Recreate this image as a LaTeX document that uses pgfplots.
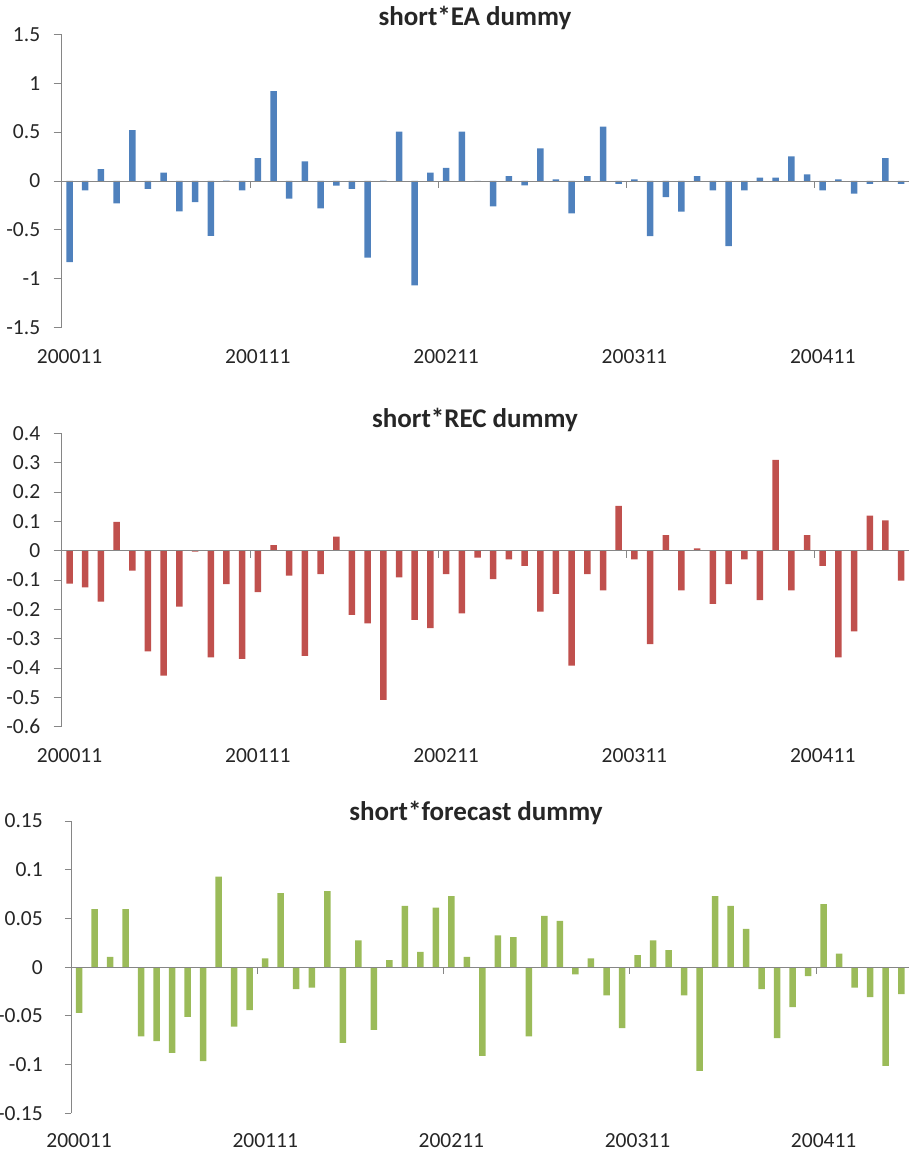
\documentclass[border=0pt]{standalone}
\usepackage{fontspec}
\setmainfont{Carlito}
\usepackage{pgfplots}
\pgfplotsset{compat=1.18}

\definecolor{exblue}{HTML}{4F81BD}
\definecolor{exred}{HTML}{C0504D}
\definecolor{exgreen}{HTML}{9BBB59}
\definecolor{axgray}{HTML}{868686}
\definecolor{txt}{HTML}{262626}

\newcommand{\ticksize}{\fontsize{21.5}{21.5}\selectfont}
\newcommand{\titlesize}{\fontsize{27}{27}\selectfont\bfseries}

\pgfplotsset{
  panel/.style={
    scale only axis, anchor=south west,
    xmin=-0.5, xmax=53.5,
    axis y line*=left, axis x line*=bottom,
    x axis line style={draw=none},
    y axis line style={draw=axgray, line width=0.8pt},
    ytick style={draw=axgray, line width=0.8pt},
    xtick style={draw=none},
    tick align=outside, major tick length=8pt,
    xtick={0,12,24,36,48},
    xticklabels={200011,200111,200211,200311,200411},
    scaled y ticks=false,
    tick label style={font=\ticksize, text=txt},
    /pgf/number format/assume math mode=true,
    yticklabel style={/pgf/number format/fixed, /pgf/number format/precision=2, xshift=-10pt},
    xticklabel style={anchor=base, yshift=-28pt},
    clip=false,
  },
  bars/.style={ybar, bar width=6.5pt, draw=none, fill=#1},
}

\begin{document}
\begin{tikzpicture}
\useasboundingbox (0,0) rectangle (909pt,1155pt);

%% panel 1: EA dummy
\begin{axis}[panel, at={(61.7pt,827.3pt)}, width=847.3pt, height=293.4pt,
  ymin=-1.5, ymax=1.5, ytick={-1.5,-1,-0.5,0,0.5,1,1.5}]
\addplot[bars=exblue] coordinates {
 (0,-0.83) (1,-0.095) (2,0.12) (3,-0.23) (4,0.52) (5,-0.08) (6,0.085) (7,-0.31)
 (8,-0.215) (9,-0.56) (10,0.004) (11,-0.095) (12,0.235) (13,0.92) (14,-0.18) (15,0.20)
 (16,-0.28) (17,-0.048) (18,-0.08) (19,-0.784) (20,0.004) (21,0.505) (22,-1.067) (23,0.085)
 (24,0.133) (25,0.505) (26,-0.005) (27,-0.26) (28,0.05) (29,-0.045) (30,0.334) (31,0.017)
 (32,-0.33) (33,0.05) (34,0.556) (35,-0.03) (36,0.017) (37,-0.563) (38,-0.164) (39,-0.314)
 (40,0.05) (41,-0.095) (42,-0.665) (43,-0.095) (44,0.034) (45,0.034) (46,0.252) (47,0.068)
 (48,-0.095) (49,0.017) (50,-0.13) (51,-0.03) (52,0.235) (53,-0.03)
};
\draw[axgray, line width=0.8pt] (axis cs:-0.5,0) -- (axis cs:53.5,0);
\draw[axgray, line width=0.8pt] (axis cs:-0.5,0) -- ([yshift=-7pt]axis cs:-0.5,0);
\draw[axgray, line width=0.8pt] (axis cs:11.5,0) -- ([yshift=-7pt]axis cs:11.5,0);
\draw[axgray, line width=0.8pt] (axis cs:23.5,0) -- ([yshift=-7pt]axis cs:23.5,0);
\draw[axgray, line width=0.8pt] (axis cs:35.5,0) -- ([yshift=-7pt]axis cs:35.5,0);
\draw[axgray, line width=0.8pt] (axis cs:47.5,0) -- ([yshift=-7pt]axis cs:47.5,0);
\end{axis}

%% panel 2: REC dummy
\begin{axis}[panel, at={(61.7pt,428.3pt)}, width=847.3pt, height=293.4pt,
  ymin=-0.6, ymax=0.4, ytick={-0.6,-0.5,-0.4,-0.3,-0.2,-0.1,0,0.1,0.2,0.3,0.4}]
\addplot[bars=exred] coordinates {
 (0,-0.112) (1,-0.125) (2,-0.174) (3,0.098) (4,-0.068) (5,-0.343) (6,-0.426) (7,-0.191)
 (8,-0.003) (9,-0.364) (10,-0.114) (11,-0.369) (12,-0.141) (13,0.019) (14,-0.085) (15,-0.359)
 (16,-0.080) (17,0.048) (18,-0.219) (19,-0.248) (20,-0.509) (21,-0.091) (22,-0.236) (23,-0.264)
 (24,-0.080) (25,-0.214) (26,-0.024) (27,-0.097) (28,-0.030) (29,-0.052) (30,-0.208) (31,-0.147)
 (32,-0.392) (33,-0.080) (34,-0.135) (35,0.153) (36,-0.030) (37,-0.319) (38,0.053) (39,-0.135)
 (40,0.008) (41,-0.181) (42,-0.114) (43,-0.030) (44,-0.169) (45,0.309) (46,-0.135) (47,0.053)
 (48,-0.052) (49,-0.364) (50,-0.275) (51,0.119) (52,0.103) (53,-0.102)
};
\draw[axgray, line width=0.8pt] (axis cs:-0.5,0) -- (axis cs:53.5,0);
\draw[axgray, line width=0.8pt] (axis cs:-0.5,0) -- ([yshift=-7pt]axis cs:-0.5,0);
\draw[axgray, line width=0.8pt] (axis cs:11.5,0) -- ([yshift=-7pt]axis cs:11.5,0);
\draw[axgray, line width=0.8pt] (axis cs:23.5,0) -- ([yshift=-7pt]axis cs:23.5,0);
\draw[axgray, line width=0.8pt] (axis cs:35.5,0) -- ([yshift=-7pt]axis cs:35.5,0);
\draw[axgray, line width=0.8pt] (axis cs:47.5,0) -- ([yshift=-7pt]axis cs:47.5,0);
\end{axis}

%% panel 3: forecast dummy
\begin{axis}[panel, at={(71.3pt,41.7pt)}, width=837.7pt, height=292.3pt,
  major tick length=6.5pt, yticklabel style={xshift=-8.5pt},
  ymin=-0.15, ymax=0.15, ytick={-0.15,-0.1,-0.05,0,0.05,0.1,0.15}]
\addplot[bars=exgreen] coordinates {
 (0,-0.047) (1,0.0595) (2,0.0106) (3,0.0595) (4,-0.071) (5,-0.076) (6,-0.088) (7,-0.051)
 (8,-0.0964) (9,0.093) (10,-0.061) (11,-0.044) (12,0.0089) (13,0.076) (14,-0.0226) (15,-0.0209)
 (16,0.078) (17,-0.0776) (18,0.0274) (19,-0.0643) (20,0.0072) (21,0.063) (22,0.0157) (23,0.0612)
 (24,0.0728) (25,0.0106) (26,-0.091) (27,0.0325) (28,0.0308) (29,-0.071) (30,0.0527) (31,0.0475)
 (32,-0.0075) (33,0.0089) (34,-0.029) (35,-0.0626) (36,0.0123) (37,0.0274) (38,0.0174) (39,-0.029)
 (40,-0.1064) (41,0.0728) (42,0.063) (43,0.0393) (44,-0.0226) (45,-0.0728) (46,-0.041) (47,-0.0092)
 (48,0.0646) (49,0.014) (50,-0.0209) (51,-0.0308) (52,-0.1012) (53,-0.0277)
};
\draw[axgray, line width=0.8pt] (axis cs:-0.5,0) -- (axis cs:53.5,0);
\draw[axgray, line width=0.8pt] (axis cs:-0.5,0) -- ([yshift=-7pt]axis cs:-0.5,0);
\draw[axgray, line width=0.8pt] (axis cs:11.5,0) -- ([yshift=-7pt]axis cs:11.5,0);
\draw[axgray, line width=0.8pt] (axis cs:23.5,0) -- ([yshift=-7pt]axis cs:23.5,0);
\draw[axgray, line width=0.8pt] (axis cs:35.5,0) -- ([yshift=-7pt]axis cs:35.5,0);
\draw[axgray, line width=0.8pt] (axis cs:47.5,0) -- ([yshift=-7pt]axis cs:47.5,0);
\end{axis}

% titles
\node[anchor=base, text=txt, font=\titlesize] at (475pt,1129pt) {short*EA dummy};
\node[anchor=base, text=txt, font=\titlesize] at (475pt,727.3pt) {short*REC dummy};
\node[anchor=base, text=txt, font=\titlesize] at (476pt,334.3pt) {short*forecast dummy};
\end{tikzpicture}
\end{document}
